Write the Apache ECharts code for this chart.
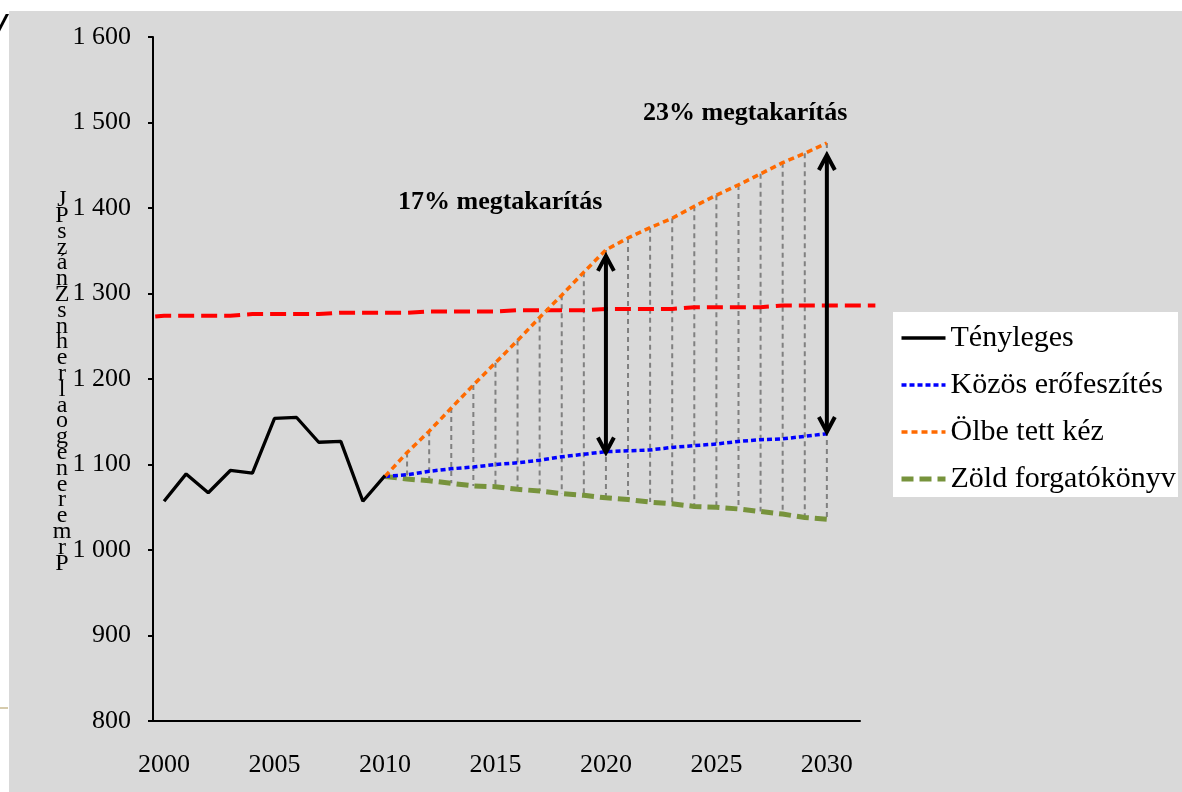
<!DOCTYPE html>
<html><head><meta charset="utf-8">
<script src="https://cdn.jsdelivr.net/npm/echarts@6/dist/echarts.min.js"></script>
<style>
html,body{margin:0;padding:0;background:#fff;}
#bg{position:absolute;left:9px;top:11px;width:1173px;height:781px;background:#D9D9D9;}
#chart{position:absolute;left:0;top:0;width:1182px;height:792px;}
</style>
</head><body><div id="bg"></div><div id="chart"></div>
<script>
const actualYears = [2000,2001,2002,2003,2004,2005,2006,2007,2008,2009,2010];
const actualValues = [1057,1089,1067,1093,1090,1154,1155,1126,1127,1057,1087];
const scenarioYears = [2010,2011,2012,2013,2014,2015,2016,2017,2018,2019,2020,2021,2022,2023,2024,2025,2026,2027,2028,2029,2030];
const kozosValues = [1086,1088,1092,1095,1097,1100,1102,1105,1109,1112,1115,1116,1117,1120,1122,1124,1127,1129,1130,1133,1136];
const olbeValues  = [1086,1114,1139,1166,1193,1219,1245,1272,1298,1325,1351,1365,1377,1388,1402,1415,1427,1440,1453,1464,1476];
const zoldValues  = [1086,1083,1081,1078,1075,1074,1071,1069,1066,1064,1061,1059,1056,1054,1051,1050,1048,1045,1042,1038,1036];
const refYears  = [1999.6,2000,2003,2004,2007,2008,2011,2012,2015,2016,2019,2020,2023,2024,2027,2028,2032.2];
const refValues = [1273,1274,1274,1276,1276,1277.5,1277.5,1279,1279,1280.5,1280.5,1282,1282,1284,1284,1286,1286];
const xTickYears = [2000,2005,2010,2015,2020,2025,2030];
const dropYears = [2011,2012,2013,2014,2015,2016,2017,2018,2019,2020,2021,2022,2023,2024,2025,2026,2027,2028,2029,2030];
const arrowYears = [2020,2030];
const arrowTops = [1344,1462];
const arrowBottoms = [1114,1138];
const annotationTexts = ['17% megtakarítás','23% megtakarítás'];
const seriesNames = ['Tényleges','Közös erőfeszítés','Ölbe tett kéz','Zöld forgatókönyv'];
const yTitleChars = ['J','P','s','z','á','n','Z','s','n','h','e','r','l','a','o','g','e','n','e','r','e','m','r','P'];

const FONT = '"Liberation Serif","Times New Roman",serif';
const pair = (xs, ys) => xs.map((x, i) => [x, ys[i]]);
const dropData = dropYears.map(y => {
  const i = scenarioYears.indexOf(y);
  return [y, olbeValues[i], zoldValues[i]];
});
const arrowData = arrowYears.map((y, i) => [y, arrowTops[i], arrowBottoms[i]]);

const chart = echarts.init(document.getElementById('chart'), null, {renderer: 'canvas'});
chart.setOption({
  animation: false,
  backgroundColor: 'transparent',
  grid: [
    {left: 153, right: 322, top: 37, bottom: 71, containLabel: false},
    {left: 153, right: 300, top: 37, bottom: 71, containLabel: false, show: false}
  ],
  xAxis: [{
    type: 'value', min: 1999.5, max: 2031.5, gridIndex: 0,
    axisLine: {show: true, onZero: false, lineStyle: {color: '#000', width: 2}},
    axisTick: {show: false},
    splitLine: {show: false},
    axisLabel: {customValues: xTickYears, fontSize: 26, fontFamily: FONT, color: '#000', margin: 31,
      formatter: v => String(v)}
  }, {
    type: 'value', min: 1999.5, max: 2032.5, gridIndex: 1, show: false
  }],
  yAxis: [{
    type: 'value', min: 800, max: 1600, interval: 100, gridIndex: 0,
    axisLine: {show: true, lineStyle: {color: '#000', width: 2}},
    axisTick: {show: true, length: 5, inside: false, lineStyle: {color: '#000', width: 2}},
    splitLine: {show: false},
    axisLabel: {fontSize: 26, fontFamily: FONT, color: '#000', margin: 22,
      formatter: v => String(v).replace(/\B(?=(\d{3})+(?!\d))/g, ' ')}
  }, {
    type: 'value', min: 800, max: 1600, gridIndex: 1, show: false
  }],
  legend: {
    data: seriesNames, orient: 'vertical', left: 899, top: 323,
    itemWidth: 44, itemHeight: 14, itemGap: 17, padding: 0,
    itemStyle: {opacity: 0},
    lineStyle: {width: 'inherit', type: 'inherit', color: 'inherit'},
    textStyle: {fontSize: 30, fontFamily: FONT, color: '#000'},
    z: 10
  },
  graphic: [
    {type: 'rect', left: 893, top: 312, shape: {width: 285, height: 185}, style: {fill: '#fff'}, z: 1},
    {type: 'text', left: 398, top: 189, style: {text: annotationTexts[0], fontSize: 26, fontWeight: 'bold', fontFamily: FONT, fill: '#000'}},
    {type: 'text', left: 643, top: 100, style: {text: annotationTexts[1], fontSize: 26, fontWeight: 'bold', fontFamily: FONT, fill: '#000'}},
    {type: 'text', x: 62, y: 192, style: {text: yTitleChars.join('\n'), fontSize: 24, lineHeight: 15.8, fontFamily: FONT, fill: '#000', align: 'center'}},
    {type: 'text', x: -8, y: 10, style: {text: '/', fontSize: 48, fontWeight: 'bold', fontStyle: 'italic', fontFamily: FONT, fill: '#000'}},
    {type: 'line', shape: {x1: 0, y1: 708, x2: 8, y2: 708}, style: {stroke: '#C8BA90', lineWidth: 1.5}}
  ],
  series: [
    {
      type: 'custom', name: 'drop', coordinateSystem: 'cartesian2d', z: 1, silent: true,
      encode: {x: 0, y: [1, 2]}, data: dropData,
      renderItem: (params, api) => {
        const a = api.coord([api.value(0), api.value(1)]);
        const b = api.coord([api.value(0), api.value(2)]);
        return {type: 'line', shape: {x1: a[0], y1: a[1], x2: b[0], y2: b[1]},
          style: {stroke: '#808080', lineWidth: 2, lineDash: [5, 4]}};
      }
    },
    {
      type: 'line', name: 'ref', xAxisIndex: 1, yAxisIndex: 1, data: pair(refYears, refValues), symbol: 'none', clip: false, z: 2,
      lineStyle: {color: '#FF0000', width: 4, type: [16, 7]}
    },
    {
      type: 'line', name: seriesNames[0], data: pair(actualYears, actualValues), symbol: 'none', z: 5,
      color: '#000', lineStyle: {color: '#000', width: 3.3, type: 'solid'}
    },
    {
      type: 'line', name: seriesNames[1], data: pair(scenarioYears, kozosValues), symbol: 'none', z: 4,
      color: '#0000FF', lineStyle: {color: '#0000FF', width: 3.5, type: [5, 3]}
    },
    {
      type: 'line', name: seriesNames[2], data: pair(scenarioYears, olbeValues), symbol: 'none', z: 4,
      color: '#FF6A00', lineStyle: {color: '#FF6A00', width: 3.5, type: [6, 4]}
    },
    {
      type: 'line', name: seriesNames[3], data: pair(scenarioYears, zoldValues), symbol: 'none', z: 3,
      color: '#77933C', lineStyle: {color: '#77933C', width: 5, type: [12, 6]}
    },
    {
      type: 'custom', name: 'arrows', coordinateSystem: 'cartesian2d', z: 6, silent: true,
      encode: {x: 0, y: [1, 2]}, data: arrowData,
      renderItem: (params, api) => {
        const t = api.coord([api.value(0), api.value(1)]);
        const b = api.coord([api.value(0), api.value(2)]);
        const w = 8, h = 15;
        const st = {stroke: '#000', lineWidth: 4, fill: null, lineJoin: 'miter', lineCap: 'butt'};
        return {type: 'group', children: [
          {type: 'line', shape: {x1: t[0], y1: t[1] + 2, x2: b[0], y2: b[1] - 2}, style: st},
          {type: 'polyline', shape: {points: [[t[0] - w, t[1] + h], [t[0], t[1]], [t[0] + w, t[1] + h]]}, style: st},
          {type: 'polyline', shape: {points: [[b[0] - w, b[1] - h], [b[0], b[1]], [b[0] + w, b[1] - h]]}, style: st}
        ]};
      }
    }
  ]
});
</script>
</body></html>
